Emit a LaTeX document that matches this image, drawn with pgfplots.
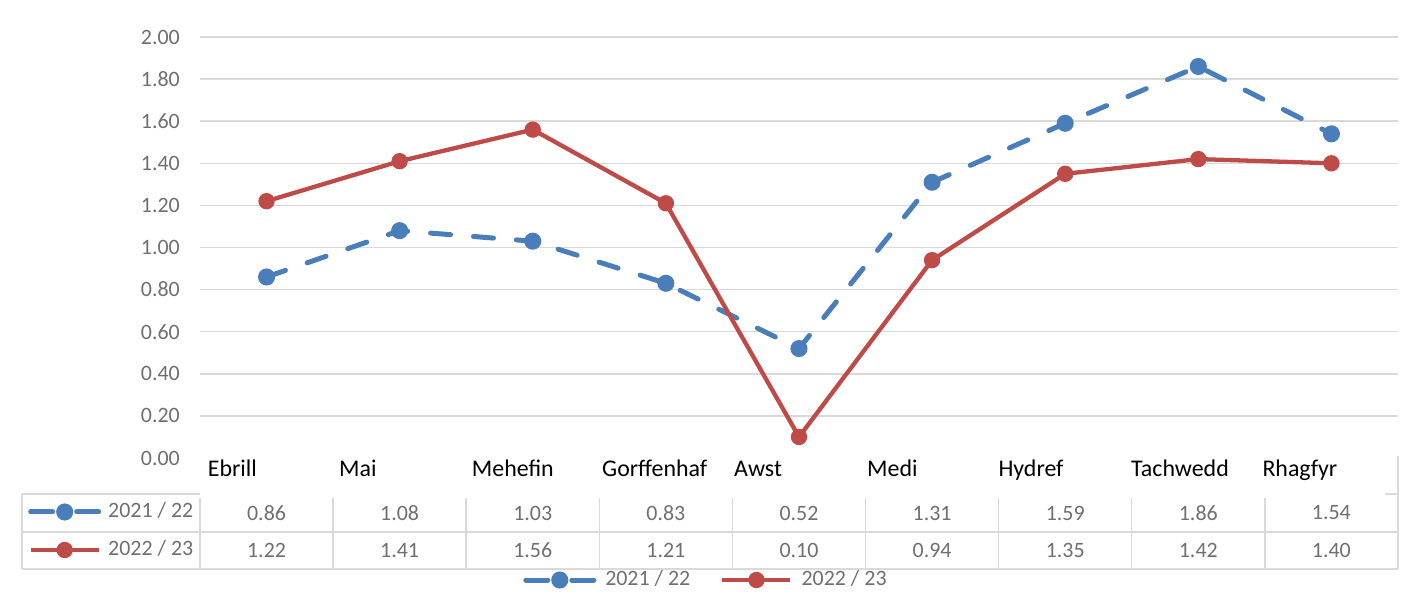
\documentclass[border=0pt]{standalone}
\usepackage{pgfplots}
\pgfplotsset{compat=1.18}
\usepackage{pgfplotstable}
\usepackage{fontspec}
\setmainfont{Carlito}
\definecolor{blueline}{HTML}{4A7EBB}
\definecolor{redline}{HTML}{BE4B48}
\definecolor{tickgray}{HTML}{6F6F6F}
\definecolor{gridgray}{HTML}{D9D9D9}
\newcommand{\gfont}{\fontsize{22}{26}\selectfont}
\newcommand{\cfont}{\fontsize{24}{28}\selectfont}

\pgfplotstableread{
x a b
0 0.86 1.22
1 1.08 1.41
2 1.03 1.56
3 0.83 1.21
4 0.52 0.10
5 1.31 0.94
6 1.59 1.35
7 1.86 1.42
8 1.54 1.40
}\data

\pgfplotsset{
  blueser/.style={blueline, line width=5bp, dash pattern=on 20bp off 23bp, line cap=round,
    mark=*, mark size=6bp, mark options={solid, fill=blueline, draw=none},
    legend image post style={dash pattern=on 22bp off 24bp}},
  redser/.style={redline, line width=4.3bp, mark=*, mark size=6bp,
    mark options={fill=redline, draw=none}},
  legimg/.style={legend image code/.code={
    \draw[##1, mark repeat=2, mark phase=2] plot coordinates {(0bp,0bp) (34bp,0bp) (68bp,0bp)};}},
}

\begin{document}
\begin{tikzpicture}
\path[use as bounding box] (0,0) rectangle (1405bp,614bp);
\begin{axis}[
  at={(200bp,156bp)}, anchor=south west, scale only axis,
  width=1198bp, height=421bp,
  xmin=-0.5, xmax=8.5, ymin=0, ymax=2,
  xtick=\empty,
  ytick={0.2,0.4,0.6,0.8,1.0,1.2,1.4,1.6,1.8,2.0},
  yticklabels={0.20,0.40,0.60,0.80,1.00,1.20,1.40,1.60,1.80,2.00},
  extra y ticks={0}, extra y tick labels={0.00}, extra y tick style={grid=none},
  ymajorgrids, grid style={gridgray, line width=1.5bp},
  axis line style={draw=none}, major tick length=0pt,
  yticklabel style={font=\gfont, text=tickgray, anchor=east, inner sep=0pt, xshift=-20bp},
  clip=false,
  legimg,
  legend columns=2,
  legend style={at={(0.4215,-0.2898)}, anchor=center, draw=none, fill=none, inner sep=0pt,
    font=\gfont, text=tickgray,
    nodes={inner sep=0pt, text height=16bp, text depth=5bp},
    /tikz/every odd column/.append style={column sep=9bp},
    /tikz/every even column/.append style={column sep=30bp}},
]
\addplot[blueser] table[x=x, y=a]{\data};
\addlegendentry{2021 / 22}
\addplot[redser] table[x=x, y=b]{\data};
\addlegendentry{2022 / 23}

\addplot[forget plot, only marks, mark=*, mark size=0pt, draw=none,
  point meta=explicit symbolic, nodes near coords,
  every node near coord/.append style={anchor=center, font=\gfont, text=tickgray, inner sep=0pt}]
  table[x=x, y expr=-0.2613, meta=a]{\data};
\addplot[forget plot, only marks, mark=*, mark size=0pt, draw=none,
  point meta=explicit symbolic, nodes near coords,
  every node near coord/.append style={anchor=center, font=\gfont, text=tickgray, inner sep=0pt}]
  table[x=x, y expr=-0.4394, meta=b]{\data};
\end{axis}

\begin{axis}[
  at={(0bp,0bp)}, anchor=south west, scale only axis,
  width=1405bp, height=614bp, xmin=0, xmax=1, ymin=0, ymax=1, hide axis,
  legimg,
  legend columns=1,
  legend style={at={(0.01993,0.1352)}, anchor=west, draw=none, fill=none, inner sep=0pt,
    font=\gfont, text=tickgray, row sep=17bp,
    nodes={inner sep=0pt, text height=16bp, text depth=5bp},
    /tikz/every odd column/.append style={column sep=7bp}},
]
\addlegendimage{blueser}
\addlegendentry{2021 / 22}
\addlegendimage{redser}
\addlegendentry{2022 / 23}
\end{axis}

\begin{scope}[x=1bp, y=-1bp, yshift=614bp]
  \draw[gridgray, line width=1.5bp] (22,494) -- (200,494);
  \draw[gridgray, line width=1.5bp] (1385,494) -- (1398,494);
  \draw[gridgray, line width=1.5bp] (22,532) -- (1398,532);
  \draw[gridgray, line width=1.5bp] (22,569) -- (1398,569);
  \draw[gridgray, line width=1.5bp] (22,494) -- (22,569);
  \draw[gridgray, line width=1.5bp] (1398,456) -- (1398,569);
  \foreach \k in {0,...,8} {
    \draw[gridgray, line width=1.5bp] ({200+133.1*\k},498) -- ({200+133.1*\k},569);
  }
  \begin{scope}[every node/.style={anchor=base west, inner sep=0pt, font=\cfont, text=black}]
    \node at (207.7,477) {Ebrill};
    \node at (339,477) {Mai};
    \node at (471.7,477) {Mehefin};
    \node at (602,477) {Gorffenhaf};
    \node at (734,477) {Awst};
    \node at (867,477) {Medi};
    \node at (998.3,477) {Hydref};
    \node at (1131,477) {Tachwedd};
    \node at (1262.3,477) {Rhagfyr};
  \end{scope}
\end{scope}
\end{tikzpicture}
\end{document}
